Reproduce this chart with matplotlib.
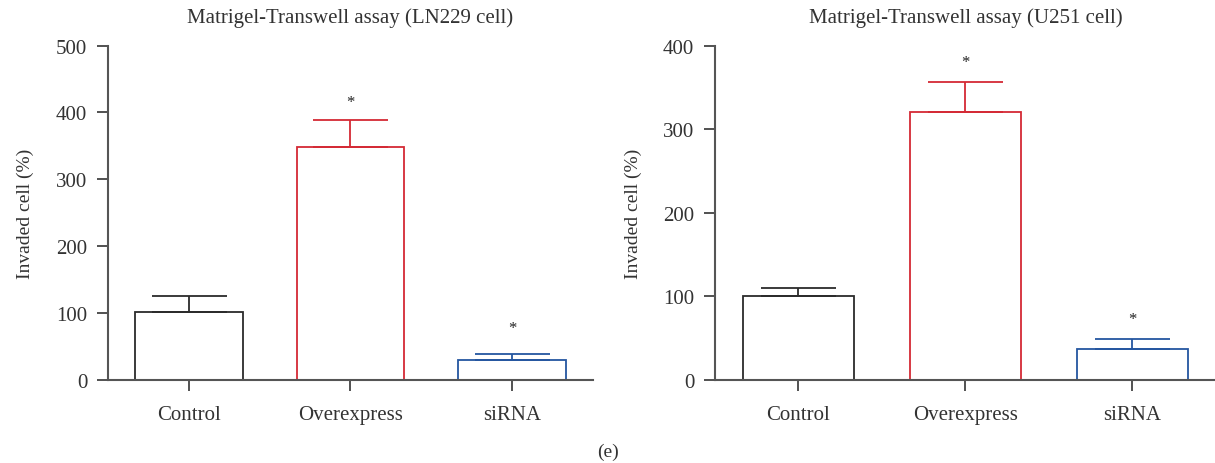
import matplotlib.pyplot as plt

plt.rcParams['font.family'] = ['Liberation Serif', 'DejaVu Serif']

groups = ['Control', 'Overexpress', 'siRNA']
colors = ['#2b2b2b', '#d42a35', '#2456a0']

# LN229
ln229_mean = [102, 348, 30]
ln229_err = [24, 40, 8]
ln229_star = [None, 415, 77]

# U251
u251_mean = [100, 320, 37]
u251_err = [10, 36, 12]
u251_star = [None, 381, 73]

fig = plt.figure(figsize=(12.15, 4.64), dpi=100)
ax1 = fig.add_axes([0.0889, 0.1795, 0.399, 0.72])
ax2 = fig.add_axes([0.5885, 0.1795, 0.412, 0.72])


def draw(ax, mean, err, star, ymax, title, lpad):
    x = range(len(groups))
    for i in x:
        ax.bar(i, mean[i], width=0.665, facecolor='white', edgecolor=colors[i],
               linewidth=1.3, zorder=2)
        ax.errorbar(i, mean[i], yerr=[[0], [err[i]]], fmt='none', ecolor=colors[i],
                    elinewidth=1.3, capsize=27, capthick=1.3, zorder=3)
        if star[i] is not None:
            ax.text(i, star[i], '*', ha='center', va='center', fontsize=12, color='#222')
    ax.set_xlim(-0.5, 2.5)
    ax.set_ylim(0, ymax)
    ax.set_xticks(list(x))
    ax.set_xticklabels(groups, fontsize=15)
    ax.set_yticks(range(0, ymax + 1, 100))
    ax.tick_params(axis='both', direction='out', length=8, width=1.2, labelsize=15,
                   colors='#333', pad=7)
    ax.tick_params(axis='x', pad=10)
    for s in ['top', 'right']:
        ax.spines[s].set_visible(False)
    for s in ['left', 'bottom']:
        ax.spines[s].set_color('#555')
        ax.spines[s].set_linewidth(1.5)
    ax.set_ylabel('Invaded cell (%)', fontsize=14, color='#333', labelpad=lpad)
    ax.set_title(title, fontsize=15, color='#333', pad=17)


draw(ax1, ln229_mean, ln229_err, ln229_star, 500, 'Matrigel-Transwell assay (LN229 cell)', 16)
draw(ax2, u251_mean, u251_err, u251_star, 400, 'Matrigel-Transwell assay (U251 cell)', 15)

fig.text(0.5, 0.025, '(e)', ha='center', va='center', fontsize=14, color='#333')

fig.savefig('out.png', dpi=100)
